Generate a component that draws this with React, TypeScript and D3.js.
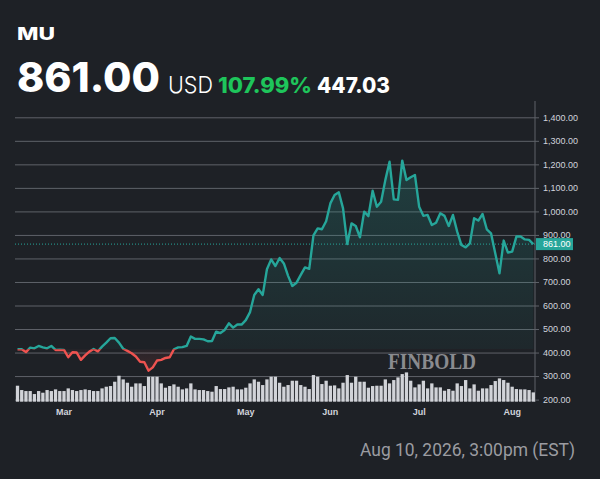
import * as React from 'react';
import * as d3 from 'd3';

// daily closes, Feb 12 -> Aug 10 (trading days)
const closes: number[] = [
    414, 414, 402, 421, 418, 428, 422, 418, 428, 411,
    412, 411, 380, 401, 400, 369, 388, 404, 415, 405,
    425, 442, 461, 462, 442, 416, 407, 397, 383, 361,
    359, 323, 337, 366, 369, 377, 380, 414, 422, 423,
    428, 468, 458, 458, 456, 448, 449, 489, 483, 496,
    524, 506, 519, 519, 538, 572, 645, 669, 645, 754,
    796, 768, 802, 779, 726, 683, 697, 730, 762, 756,
    898, 928, 924, 958, 1034, 1070, 1081, 1013, 861, 949,
    938, 890, 999, 980, 1088, 1020, 1041, 1133, 1211, 1051,
    1049, 1216, 1133, 1145, 1155, 1020, 981, 985, 942, 952,
    992, 981, 938, 985, 914, 857, 847, 864, 971, 961,
    989, 924, 907, 822, 737, 876, 825, 829, 893, 893,
    881, 879, 861,
];

// volume, millions of shares
const volumes: number[] = [
    24, 17.5, 16, 16, 11.5, 16, 13.5, 17.5, 16, 18.5,
    16, 16, 20, 17.5, 16, 17.5, 18.5, 17.5, 16, 16,
    20, 22.5, 23.5, 30, 39, 33.5, 28.5, 22.5, 27.5, 27.5,
    23.5, 37.5, 37.5, 37.5, 27.5, 21, 23.5, 26, 22.5, 18.5,
    20, 27.5, 18.5, 17.5, 17.5, 16, 15, 23.5, 19, 19,
    21.5, 22.5, 18.5, 18.5, 21, 27.5, 33.5, 30, 25, 33.5,
    37.5, 37.5, 28.5, 22.5, 25, 31.5, 31.5, 25, 22.5, 19,
    40, 37.5, 26.5, 31.5, 24, 24.5, 20, 28.5, 40, 28.5,
    37.5, 30, 30, 21, 23.5, 24, 24, 33.5, 27.5, 32.5,
    36.5, 41.5, 44, 31.5, 21.5, 26, 31.5, 20, 27.5, 21.5,
    21.5, 16.5, 19, 16.5, 27.5, 23.5, 32.5, 20, 26, 16.5,
    20, 20, 25, 31, 35, 32.5, 28.5, 22.5, 19, 18.5,
    18.5, 17.5, 14,
];

const monthLabels = ['Mar', 'Apr', 'May', 'Jun', 'Jul', 'Aug'];
const monthStartIndex = [11, 33, 54, 74, 95, 117];
const priceTicks = [200, 300, 400, 500, 600, 700, 800, 900, 1000, 1100, 1200, 1300, 1400];

const ticker = 'MU';
const lastPrice = 861.0;
const baseValue = 413.97;
const changePct = 107.99;
const changeAbs = 447.03;
const stamp = 'Aug 10, 2026, 3:00pm (EST)';

const W = 600;
const H = 479;
const plot = { left: 15, right: 535, top: 101, bottom: 402 };

const UP = '#26a69a';
const DOWN = '#ef5350';
const GRID = '#5f6269';

export default function App() {
    const ref = React.useRef<SVGGElement>(null);

    React.useEffect(() => {
        const svg = d3.select(ref.current);
        svg.selectAll('*').remove();

        const x = d3.scaleLinear().domain([0, closes.length - 1]).range([17.5, 533.3]);
        const y = d3.scaleLinear().domain([200, 1400]).range([399.6, 117.3]);
        const yVol = d3.scaleLinear().domain([0, 44]).range([401.7, 372.4]);
        const baseY = y(baseValue);

        const defs = svg.append('defs');
        defs.append('clipPath').attr('id', 'above')
            .append('rect').attr('x', 0).attr('y', 0).attr('width', W).attr('height', baseY);
        defs.append('clipPath').attr('id', 'below')
            .append('rect').attr('x', 0).attr('y', baseY).attr('width', W).attr('height', H - baseY);

        const gUp = defs.append('linearGradient').attr('id', 'gUp')
            .attr('gradientUnits', 'userSpaceOnUse')
            .attr('x1', 0).attr('x2', 0).attr('y1', plot.top).attr('y2', baseY);
        gUp.append('stop').attr('offset', 0).attr('stop-color', UP).attr('stop-opacity', 0.28);
        gUp.append('stop').attr('offset', 1).attr('stop-color', UP).attr('stop-opacity', 0.05);
        const gDown = defs.append('linearGradient').attr('id', 'gDown')
            .attr('gradientUnits', 'userSpaceOnUse')
            .attr('x1', 0).attr('x2', 0).attr('y1', baseY).attr('y2', plot.bottom);
        gDown.append('stop').attr('offset', 0).attr('stop-color', DOWN).attr('stop-opacity', 0.05);
        gDown.append('stop').attr('offset', 1).attr('stop-color', DOWN).attr('stop-opacity', 0.28);

        // grid + right axis
        const yAxis = d3.axisRight(y)
            .tickValues(priceTicks)
            .tickSize(-(plot.right - plot.left))
            .tickPadding(8)
            .tickFormat(d => d3.format(',.2f')(d as number));
        svg.append('g')
            .attr('transform', `translate(${plot.right}, 0)`)
            .call(yAxis)
            .call(g => g.select('.domain').remove())
            .call(g => g.selectAll('.tick line').attr('stroke', GRID).attr('x2', 4).attr('x1', -(plot.right - plot.left)))
            .call(g => g.selectAll('.tick text')
                .attr('fill', '#d1d4dc')
                .attr('font-family', 'Liberation Sans, Arial, sans-serif')
                .attr('font-size', 9)
                .attr('x', 8));
        svg.append('line')
            .attr('x1', plot.right).attr('x2', plot.right)
            .attr('y1', plot.top).attr('y2', plot.bottom)
            .attr('stroke', GRID);

        // baseline area
        const area = d3.area<number>()
            .x((_, i) => x(i))
            .y0(baseY)
            .y1(d => y(d));
        svg.append('path').attr('d', area(closes)!)
            .attr('fill', 'url(#gUp)').attr('clip-path', 'url(#above)');
        svg.append('path').attr('d', area(closes)!)
            .attr('fill', 'url(#gDown)').attr('clip-path', 'url(#below)');

        // volume
        svg.append('g').selectAll('rect')
            .data(volumes)
            .join('rect')
            .attr('x', (_, i) => x(i) - 1.65)
            .attr('width', 3.3)
            .attr('y', d => yVol(d))
            .attr('height', d => yVol(0) - yVol(d))
            .attr('fill', '#d1d3d8');

        // watermark
        svg.append('text')
            .attr('x', 388).attr('y', 368.5)
            .attr('font-family', 'Liberation Serif, serif')
            .attr('font-weight', 'bold')
            .attr('font-size', 23)
            .attr('textLength', 88)
            .attr('lengthAdjust', 'spacingAndGlyphs')
            .attr('fill', '#8a8b8f')
            .text('FINBOLD');

        // price line, split at the base value
        const line = d3.line<number>().x((_, i) => x(i)).y(d => y(d));
        svg.append('path').attr('d', line(closes)!)
            .attr('fill', 'none').attr('stroke', UP).attr('stroke-width', 2.4)
            .attr('stroke-linejoin', 'round').attr('clip-path', 'url(#above)');
        svg.append('path').attr('d', line(closes)!)
            .attr('fill', 'none').attr('stroke', DOWN).attr('stroke-width', 2.4)
            .attr('stroke-linejoin', 'round').attr('clip-path', 'url(#below)');

        // last price marker
        const lastY = y(lastPrice);
        svg.append('line')
            .attr('x1', plot.left).attr('x2', plot.right)
            .attr('y1', lastY).attr('y2', lastY)
            .attr('stroke', UP).attr('stroke-width', 1)
            .attr('stroke-dasharray', '1,2');
        svg.append('rect')
            .attr('x', plot.right + 1).attr('y', lastY - 6)
            .attr('width', 37).attr('height', 12)
            .attr('fill', UP);
        svg.append('text')
            .attr('x', plot.right + 8).attr('y', lastY)
            .attr('dy', '0.35em')
            .attr('font-family', 'Liberation Sans, Arial, sans-serif')
            .attr('font-size', 9)
            .attr('fill', '#ffffff')
            .text(d3.format(',.2f')(lastPrice));

        // month labels
        svg.append('g').selectAll('text')
            .data(monthLabels)
            .join('text')
            .attr('x', (_, i) => x(monthStartIndex[i]))
            .attr('y', 415)
            .attr('text-anchor', 'middle')
            .attr('font-family', 'Liberation Sans, Arial, sans-serif')
            .attr('font-weight', 'bold')
            .attr('font-size', 9)
            .attr('fill', '#d1d4dc')
            .text(d => d);
    }, []);

    const head = 'Inter, Lato, sans-serif';
    return (
        <svg width={W} height={H}
            style={{ position: 'absolute', left: 0, top: 0, display: 'block' }}>
            <rect width={W} height={H} fill="#1e2126" />
            <g ref={ref} />
            <text x={17} y={40} fontFamily={head} fontWeight={800} fontSize={17}
                fill="#ffffff" textLength={38} lengthAdjust="spacingAndGlyphs">{ticker}</text>
            <text x={17} y={92} fontFamily={head} fontWeight={800} fontSize={41}
                fill="#ffffff" textLength={143} lengthAdjust="spacingAndGlyphs">{lastPrice.toFixed(2)}</text>
            <text x={168} y={93} fontFamily={head} fontWeight={300} fontSize={23}
                fill="#ffffff" textLength={45} lengthAdjust="spacingAndGlyphs">USD</text>
            <text x={218} y={93} fontFamily={head} fontWeight={800} fontSize={21.5}
                fill="#1ec55b" textLength={94} lengthAdjust="spacingAndGlyphs">{changePct.toFixed(2)}%</text>
            <text x={317} y={93} fontFamily={head} fontWeight={800} fontSize={21.5}
                fill="#ffffff" textLength={73} lengthAdjust="spacingAndGlyphs">{changeAbs.toFixed(2)}</text>
            <text x={360} y={456} fontFamily="Roboto, Inter, sans-serif" fontWeight={400} fontSize={18.5}
                fill="#9b9ca1" textLength={215} lengthAdjust="spacingAndGlyphs">{stamp}</text>
        </svg>
    );
}
